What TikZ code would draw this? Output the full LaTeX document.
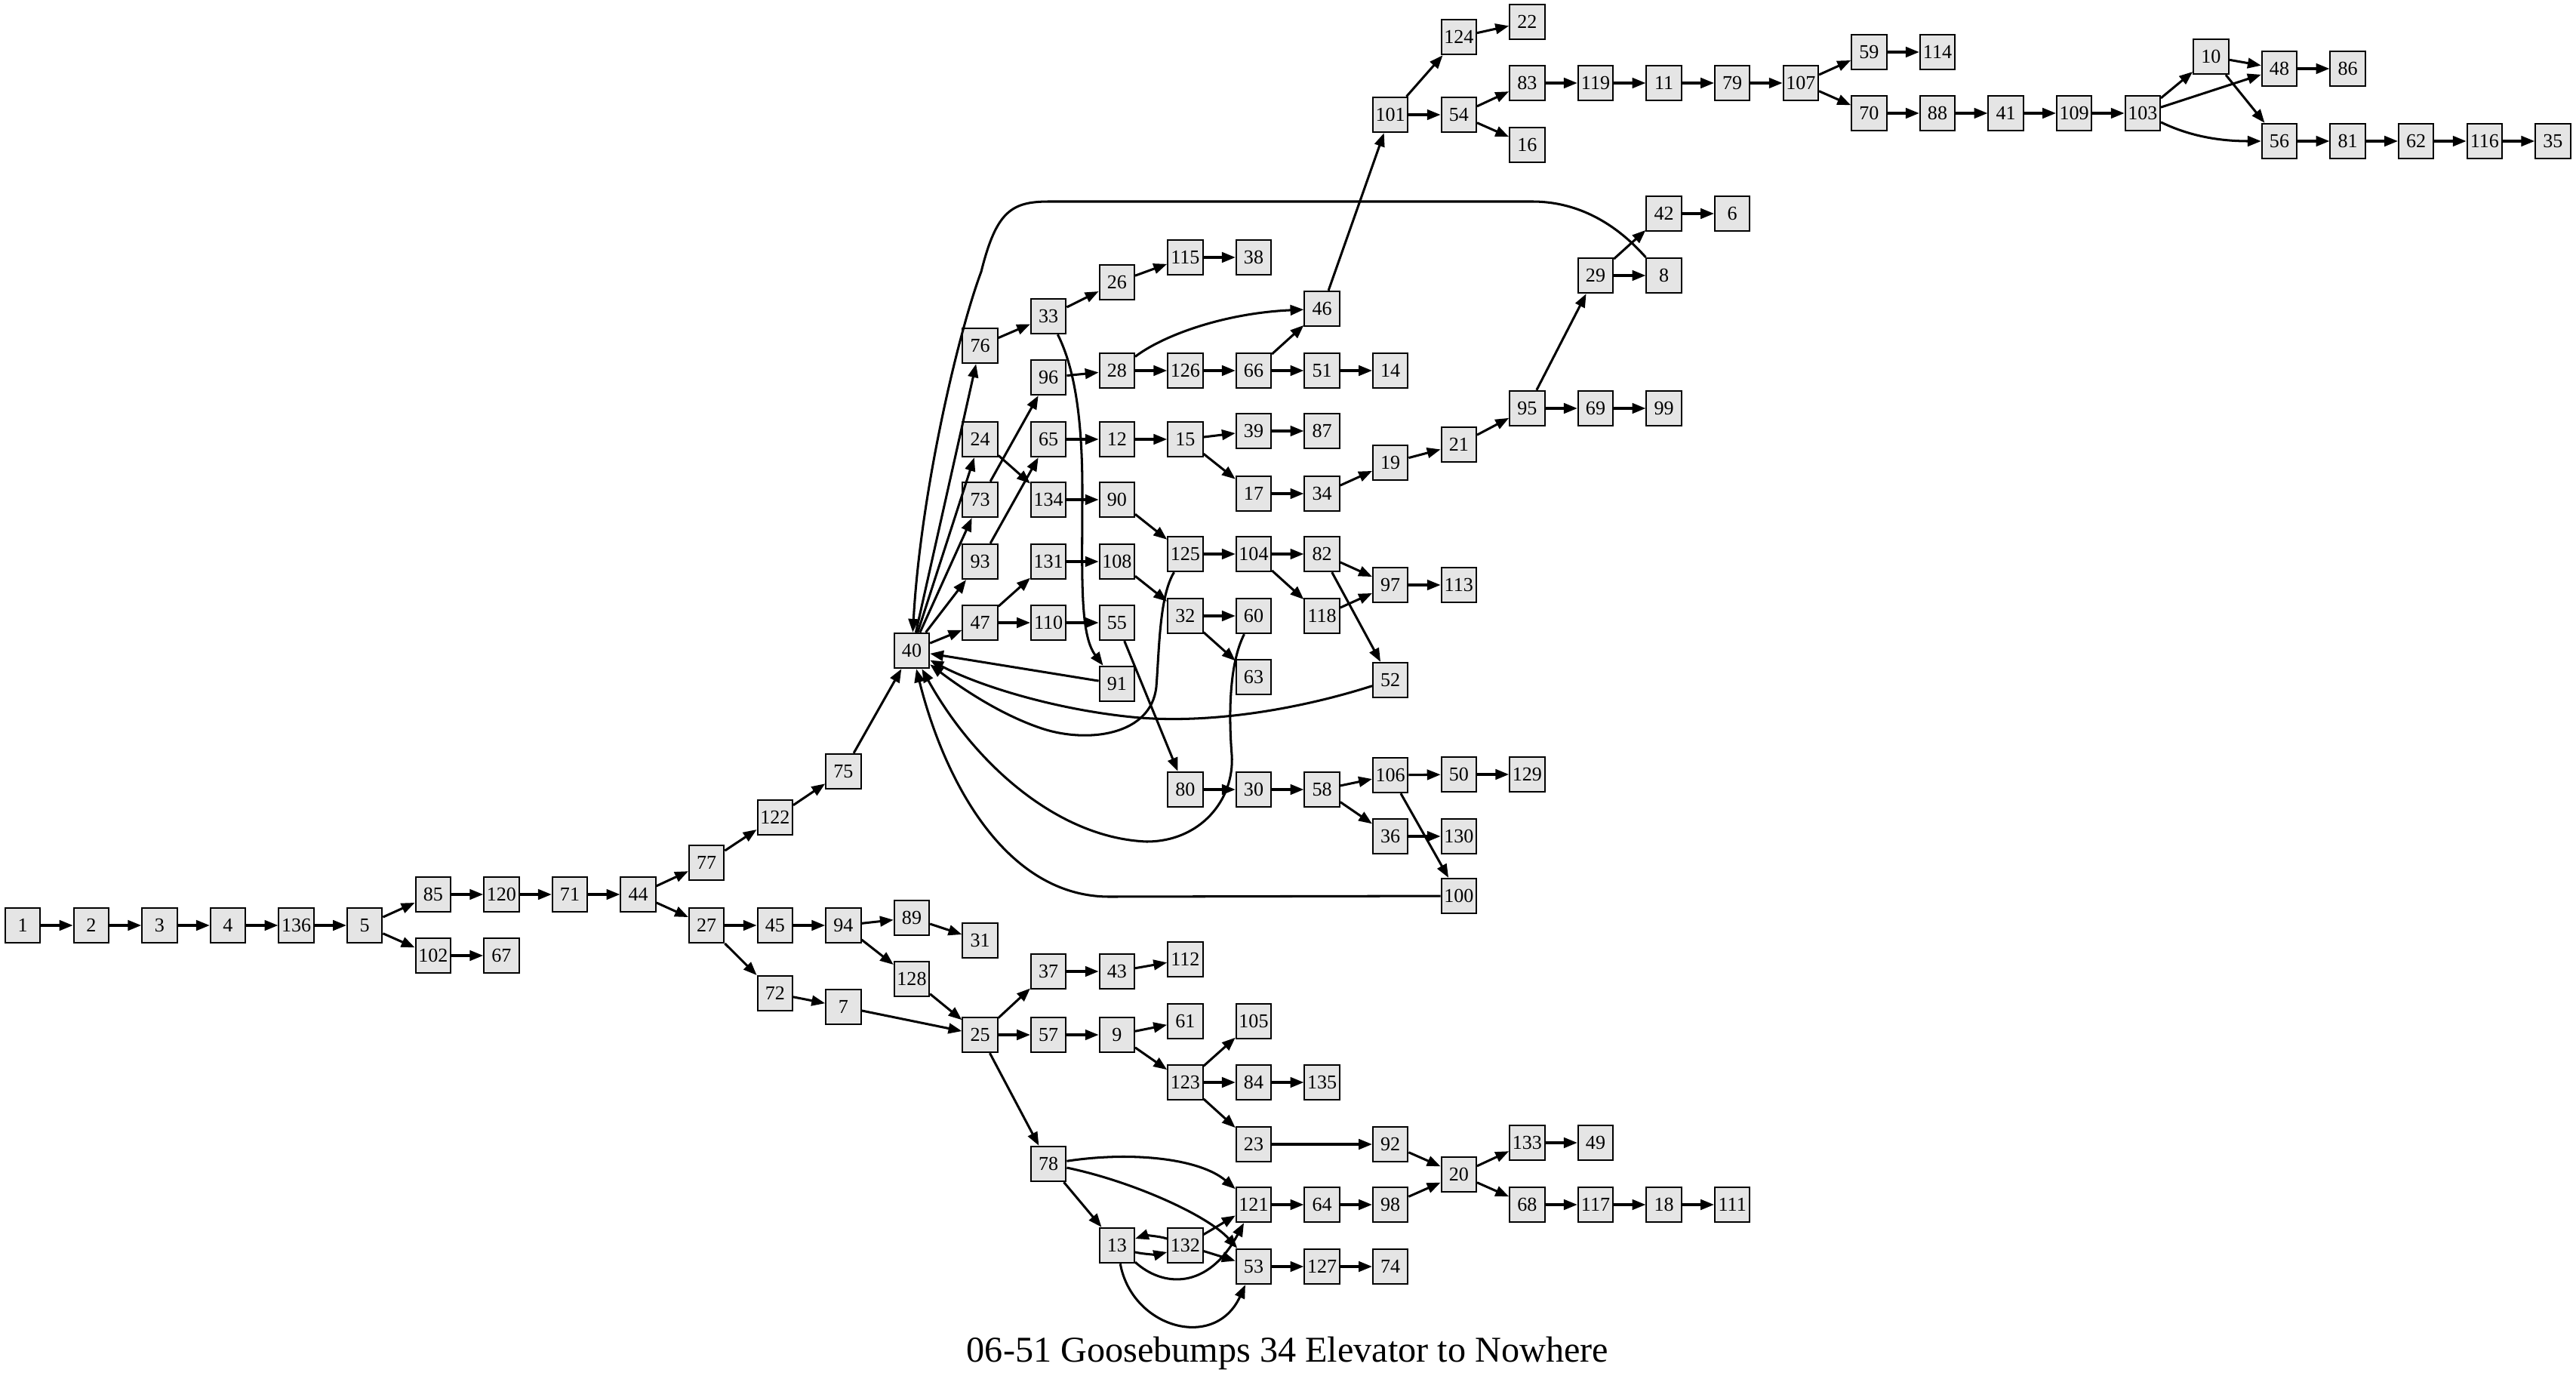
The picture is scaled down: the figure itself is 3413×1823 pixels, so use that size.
\documentclass[tikz,border=0pt]{standalone}
\usepackage{fontspec}
\setmainfont{Liberation Serif}
\usetikzlibrary{arrows.meta}
\definecolor{nodefill}{HTML}{E5E5E5}
\begin{document}
\begin{tikzpicture}[x=0.28pt,y=-0.28pt,
  nd/.style={draw=black, line width=0.55pt, fill=nodefill, minimum width=13pt, minimum height=13pt, inner sep=0pt, font=\fontsize{7.3}{8}\selectfont},
  edge/.style={line width=0.85pt, -{Triangle[length=5pt,width=3.8pt]}},
  titlestyle/.style={font=\fontsize{13.5}{16}\selectfont, anchor=base, inner sep=0pt}]
\useasboundingbox (0,0) rectangle (3413,1823);
\foreach \n/\x/\y in {1/30.2/1226, 2/120.8/1226, 3/211.4/1226, 4/302/1226, 136/392.6/1226, 5/483.2/1226,
 85/573.8/1185, 102/573.8/1266, 120/664.4/1185, 67/664.4/1266, 71/755/1185, 44/845.6/1185,
 77/936.2/1143, 27/936.2/1226, 122/1026.8/1083, 45/1026.8/1226, 72/1026.8/1316,
 75/1117.4/1022, 94/1117.4/1226, 7/1117.4/1334,
 40/1208/862, 89/1208/1216, 128/1208/1297,
 76/1298.6/458, 24/1298.6/582, 73/1298.6/662, 93/1298.6/744, 47/1298.6/825, 31/1298.6/1246, 25/1298.6/1371,
 33/1389.2/419, 96/1389.2/500, 65/1389.2/582, 134/1389.2/662, 131/1389.2/744, 110/1389.2/825, 37/1389.2/1287, 57/1389.2/1371, 78/1389.2/1542,
 26/1479.8/374, 28/1479.8/491, 12/1479.8/582, 90/1479.8/662, 108/1479.8/744, 55/1479.8/825, 91/1479.8/906, 43/1479.8/1287, 9/1479.8/1371, 13/1479.8/1650,
 115/1570.4/341, 126/1570.4/491, 15/1570.4/582, 125/1570.4/734, 32/1570.4/816, 80/1570.4/1046, 112/1570.4/1271, 61/1570.4/1353, 123/1570.4/1434, 132/1570.4/1650,
 38/1661/341, 66/1661/491, 39/1661/571, 17/1661/654, 104/1661/734, 60/1661/816, 63/1661/897, 30/1661/1046, 105/1661/1353, 84/1661/1434, 23/1661/1516, 121/1661/1596, 53/1661/1678,
 46/1751.6/409, 51/1751.6/491, 87/1751.6/571, 34/1751.6/654, 82/1751.6/734, 118/1751.6/816, 58/1751.6/1046, 135/1751.6/1434, 64/1751.6/1596, 127/1751.6/1678,
 101/1842.2/152, 14/1842.2/491, 19/1842.2/613, 97/1842.2/775, 52/1842.2/901, 106/1842.2/1027, 36/1842.2/1108, 92/1842.2/1516, 98/1842.2/1596, 74/1842.2/1678,
 124/1932.8/49, 54/1932.8/152, 21/1932.8/589, 113/1932.8/775, 50/1932.8/1026, 130/1932.8/1108, 100/1932.8/1187, 20/1932.8/1556,
 22/2023.4/29, 83/2023.4/110, 16/2023.4/192, 95/2023.4/541, 129/2023.4/1026, 133/2023.4/1514, 68/2023.4/1596,
 119/2114/110, 29/2114/365, 69/2114/541, 49/2114/1514, 117/2114/1596,
 11/2204.6/110, 42/2204.6/283, 8/2204.6/365, 99/2204.6/541, 18/2204.6/1596,
 79/2295.2/110, 6/2295.2/283, 111/2295.2/1596,
 107/2385.8/110, 59/2476.4/69, 70/2476.4/150, 114/2567/69, 88/2567/150, 41/2657.6/150, 109/2748.2/150, 103/2838.8/150,
 10/2929.4/75, 48/3020/91, 56/3020/187, 86/3110.6/91, 81/3110.6/187, 62/3201.2/187, 116/3291.8/187, 35/3382.4/187}
 {\node[nd] (n\n) at (\x,\y) {\n};}
\foreach \a/\b in {1/2, 2/3, 3/4, 4/136, 136/5, 5/85, 5/102, 85/120, 120/71, 71/44, 102/67, 44/77, 44/27,
 77/122, 122/75, 75/40, 27/45, 27/72, 45/94, 72/7, 94/89, 94/128, 89/31, 128/25, 7/25, 25/37, 25/57, 25/78,
 37/43, 43/112, 57/9, 9/61, 9/123, 123/105, 123/84, 123/23, 84/135, 23/92, 92/20, 78/13, 132/121, 132/53,
 121/64, 64/98, 98/20, 53/127, 127/74, 20/133, 20/68, 133/49, 68/117, 117/18, 18/111,
 40/76, 40/24, 40/73, 40/93, 40/47, 76/33, 33/26, 26/115, 115/38, 96/28, 28/126, 126/66, 66/46, 66/51, 51/14,
 46/101, 101/124, 101/54, 124/22, 54/83, 54/16, 83/119, 119/11, 11/79, 79/107, 107/59, 107/70, 59/114,
 70/88, 88/41, 41/109, 109/103, 103/10, 103/48, 10/48, 10/56, 48/86, 56/81, 81/62, 62/116, 116/35,
 24/134, 73/96, 93/65, 65/12, 12/15, 15/39, 15/17, 39/87, 17/34, 34/19, 19/21, 21/95, 95/29, 95/69, 69/99,
 29/42, 29/8, 42/6, 134/90, 90/125, 125/104, 104/82, 104/118, 82/97, 82/52, 118/97, 97/113, 131/108,
 108/32, 32/60, 32/63, 47/131, 47/110, 110/55, 55/80, 80/30, 30/58, 58/106, 58/36, 106/50, 106/100,
 50/129, 36/130, 91/40}
 {\draw[edge] (n\a) -- (n\b);}
% curved connectors
\draw[edge] (n8.north west) .. controls (2160,318) and (2110,267) .. (2030,267) -- (1390,267)
  .. controls (1340,267) and (1320,280) .. (1300,360) .. controls (1270,440) and (1220,650) .. (n40);
\draw[edge] (n125) .. controls (1536,790) and (1536,860) .. (1532,910)
  .. controls (1525,975) and (1440,985) .. (1380,965) .. controls (1320,945) and (1265,905) .. (n40);
\draw[edge] (n52) .. controls (1720,940) and (1600,960) .. (1500,950) .. controls (1400,940) and (1300,910) .. (n40);
\draw[edge] (n60) .. controls (1628,880) and (1628,950) .. (1632,1000)
  .. controls (1636,1060) and (1590,1115) .. (1519,1115) .. controls (1400,1110) and (1290,1010) .. (n40);
\draw[edge] (n100) -- (1470,1188) .. controls (1330,1188) and (1250,1030) .. (n40);
\draw[edge] (n33) .. controls (1425,490) and (1434,560) .. (1434,650) .. controls (1434,760) and (1430,840) .. (n91);
\draw[edge] (n28) .. controls (1540,445) and (1620,415) .. (n46);
\draw[edge] (n78) .. controls (1500,1525) and (1590,1535) .. (n121);
\draw[edge] (n78) .. controls (1500,1565) and (1600,1610) .. (n53);
\draw[edge] (n13) .. controls (1540,1705) and (1600,1710) .. (n121);
\draw[edge] (n13) .. controls (1500,1760) and (1610,1790) .. (n53);
\draw[edge] (n103) .. controls (2900,180) and (2940,187) .. (n56);
\draw[edge] ([yshift=2.5pt]n132.west) .. controls +(-12,-4) and +(12,-4) .. ([yshift=2.5pt]n13.east);
\draw[edge] ([yshift=-2.5pt]n13.east) .. controls +(12,3) and +(-12,3) .. ([yshift=-2.5pt]n132.west);
\node[titlestyle] (title) at (1706,1804) {06-51 Goosebumps 34 Elevator to Nowhere};
\end{tikzpicture}
\end{document}
